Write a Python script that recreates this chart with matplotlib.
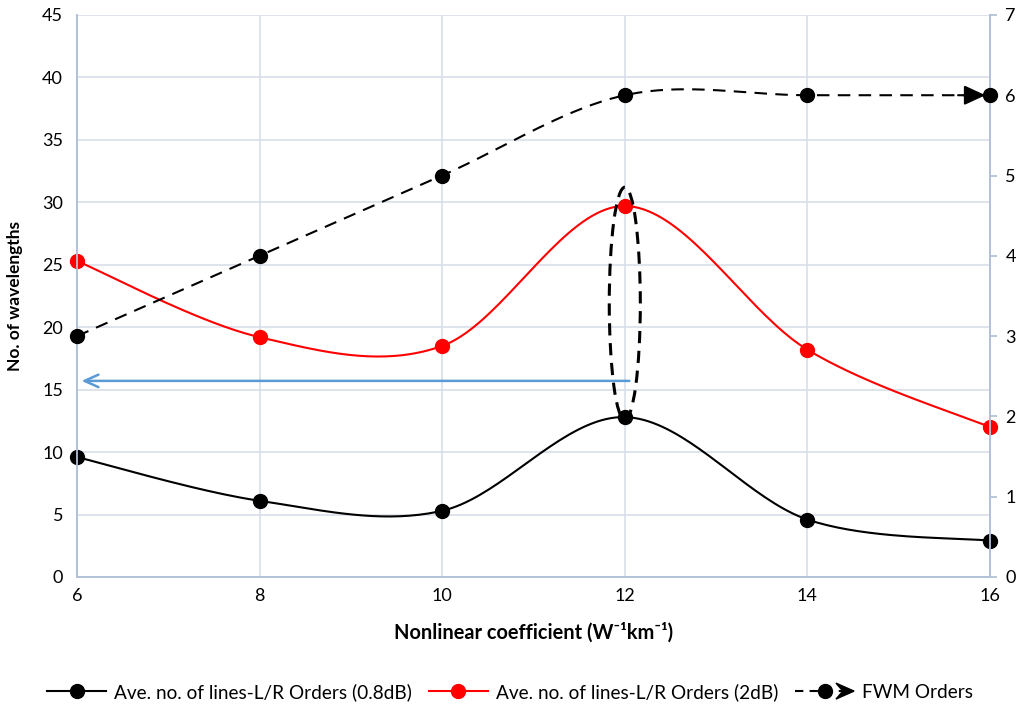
import numpy as np
import matplotlib
matplotlib.use("Agg")
import matplotlib.pyplot as plt
from matplotlib.patches import Ellipse, Polygon
from matplotlib.lines import Line2D
from matplotlib.legend_handler import HandlerLine2D

plt.rcParams['font.family'] = ['Lato', 'DejaVu Sans']

x_vals = [6, 8, 10, 12, 14, 16]
lines_08db = [9.6, 6.1, 5.3, 12.8, 4.6, 2.9]
lines_2db = [25.3, 19.2, 18.5, 29.7, 18.2, 12.0]
fwm_orders = [3, 4, 5, 6, 6, 6]

left_ticks = list(range(0, 50, 5))
right_ticks = list(range(0, 8))


def smooth(xs, ys, n=40):
    """Excel-like smoothed line (Catmull-Rom as cubic Bezier)."""
    P = np.column_stack([xs, ys]).astype(float)
    out = []
    for i in range(len(P) - 1):
        p0 = P[i - 1] if i > 0 else P[i]
        p1 = P[i]
        p2 = P[i + 1]
        p3 = P[i + 2] if i + 2 < len(P) else P[i + 1]
        c1 = p1 + (p2 - p0) / 6.0
        c2 = p2 - (p3 - p1) / 6.0
        t = np.linspace(0, 1, n)[:, None]
        seg = ((1 - t) ** 3) * p1 + 3 * ((1 - t) ** 2) * t * c1 + 3 * (1 - t) * t ** 2 * c2 + t ** 3 * p2
        out.append(seg if i == 0 else seg[1:])
    s = np.vstack(out)
    return s[:, 0], s[:, 1]


fig = plt.figure(figsize=(10.22, 7.11), dpi=100)
ax = fig.add_axes([0.0753, 0.1885, 0.8934, 0.7905])
ax2 = ax.twinx()

grid_c = '#D9DEE9'
spine_c = '#B4C2D8'

ax.set_xlim(6, 16)
ax.set_ylim(0, 45)
ax.set_xticks(x_vals)
ax.set_yticks(left_ticks)
ax.grid(True, color=grid_c, lw=1.2)
ax.set_axisbelow(True)
ax2.set_ylim(0, 7)
ax2.set_yticks(right_ticks)

for a in (ax, ax2):
    a.spines['top'].set_visible(False)
    for s in ('left', 'right', 'bottom'):
        a.spines[s].set_color(spine_c)
        a.spines[s].set_linewidth(1.3)

ax.tick_params(axis='y', length=0, labelsize=13, pad=10, colors='#000000')
ax.tick_params(axis='x', length=0, labelsize=13, pad=8)
ax2.tick_params(axis='y', length=5, width=1.3, color=spine_c, labelsize=13, pad=6)

# black series
sx, sy = smooth(x_vals, lines_08db)
ax.plot(sx, sy, color='black', lw=1.5, zorder=3)
ax.plot(x_vals, lines_08db, 'o', color='black', ms=10, zorder=4, clip_on=False)

# red series
sx, sy = smooth(x_vals, lines_2db)
ax.plot(sx, sy, color='#FF0000', lw=1.5, zorder=3)
ax.plot(x_vals, lines_2db, 'o', color='#FF0000', ms=10, zorder=4, clip_on=False)

# FWM series (right axis)
sx, sy = smooth(x_vals, fwm_orders)
ax2.plot(sx, sy, color='black', lw=1.5, ls=(0, (6, 4)), zorder=3)
ax2.plot(x_vals, fwm_orders, 'o', color='black', ms=10, zorder=4, clip_on=False)
ax2.annotate('', xy=(x_vals[-1] - 0.05, fwm_orders[-1]), xytext=(x_vals[-1] - 0.35, fwm_orders[-1]),
             arrowprops=dict(arrowstyle='-|>,head_length=1.3,head_width=0.6', color='black', lw=1.5,
                             shrinkA=0, shrinkB=0), zorder=5)

# annotations: dashed ellipse and blue arrow
ell = Ellipse((12, 21.9), width=0.34, height=18.6, fill=False, ls=(0, (4, 2.5)), lw=2.2,
              edgecolor='black', zorder=5)
ax.add_patch(ell)
ax.annotate('', xy=(6.05, 15.7), xytext=(12.05, 15.7),
            arrowprops=dict(arrowstyle='->,head_length=1.0,head_width=0.45', color='#5B9BD5', lw=1.8,
                            shrinkA=0, shrinkB=0), zorder=5)

ax.set_xlabel('Nonlinear coefficient (W\u207b\u00b9km\u207b\u00b9)', fontsize=14.4,
              fontweight='bold', labelpad=13)
ax.set_ylabel('No. of wavelengths', fontsize=12.5, fontweight='bold', labelpad=14)


class HandlerArrowLine(HandlerLine2D):
    def create_artists(self, legend, orig_handle, xdescent, ydescent, width, height, fontsize, trans):
        arts = super().create_artists(legend, orig_handle, xdescent, ydescent, width, height, fontsize, trans)
        y = height / 2 - ydescent
        x1 = width - xdescent
        hw = height * 0.6
        poly = Polygon([[x1 - 13, y + hw], [x1, y], [x1 - 13, y - hw], [x1 - 8, y]], closed=True,
                       facecolor='black', edgecolor='black', transform=trans)
        return arts + [poly]


h1 = Line2D([], [], color='black', lw=1.5, marker='o', ms=10)
h2 = Line2D([], [], color='#FF0000', lw=1.5, marker='o', ms=10)
h3 = Line2D([], [], color='black', lw=1.5, ls=(0, (4, 3)), marker='o', ms=10)
fig.legend([h1, h2, h3],
           ['Ave. no. of lines-L/R Orders (0.8dB)', 'Ave. no. of lines-L/R Orders (2dB)', 'FWM Orders'],
           handler_map={h3: HandlerArrowLine()},
           loc='center', bbox_to_anchor=(0.499, 0.027), ncol=3, frameon=False, fontsize=13.7,
           handlelength=3.1, columnspacing=0.9, handletextpad=0.4)

fig.savefig('out.png', dpi=100)
